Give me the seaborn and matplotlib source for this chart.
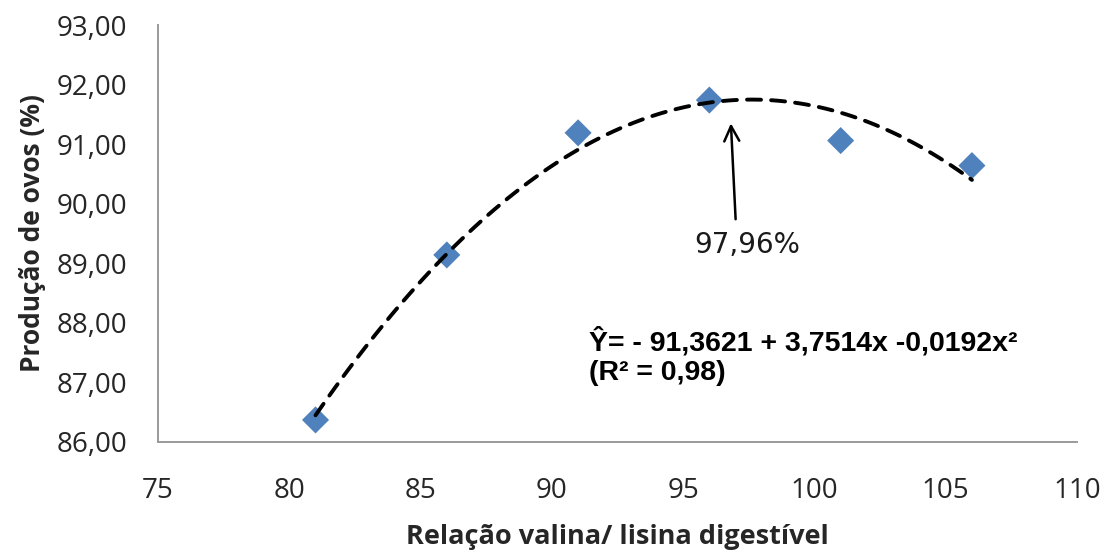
import matplotlib
matplotlib.use("Agg")
import matplotlib.pyplot as plt
import seaborn as sns
import pandas as pd

# Valine : digestible lysine ratio and egg production
relacao = [81, 86, 91, 96, 101, 106]
producao = [86.37, 89.14, 91.19, 91.74, 91.06, 90.64]

x_ticks = [75, 80, 85, 90, 95, 100, 105, 110]
y_ticks = [86, 87, 88, 89, 90, 91, 92, 93]

equacao = "Ŷ= - 91,3621 + 3,7514x -0,0192x²"
r2_texto = "(R² = 0,98)"
otimo_texto = "97,96%"

df = pd.DataFrame({"relacao": relacao, "producao": producao})

sns.set_theme(style="white")
plt.rcParams["font.family"] = ["Open Sans", "DejaVu Sans"]

fig = plt.figure(figsize=(11.04, 5.5), dpi=100)
ax = fig.add_axes([0.1431, 0.1964, 0.8324, 0.7581])

# quadratic trend line (dashed) fitted over the data range
sns.regplot(data=df, x="relacao", y="producao", order=2, ci=None, scatter=False,
            truncate=True, ax=ax,
            line_kws=dict(color="black", lw=2.8, ls=(0, (3.6, 2.6)),
                          dash_capstyle="round", zorder=3))

# observed means
sns.scatterplot(data=df, x="relacao", y="producao", marker="D", s=190,
                color="#4F81BD", edgecolor="none", ax=ax, zorder=2)

ax.set_xlim(75, 110)
ax.set_ylim(86, 93)
ax.set_xticks(x_ticks)
ax.set_yticks(y_ticks)
ax.set_xticklabels([str(v) for v in x_ticks], fontsize=20, color="#262626")
ax.set_yticklabels([f"{v:.2f}".replace(".", ",") for v in y_ticks],
                   fontsize=20, color="#262626")
ax.tick_params(axis="x", length=0, pad=25)
ax.tick_params(axis="y", length=0, pad=22)

for side in ("top", "right"):
    ax.spines[side].set_visible(False)
for side in ("left", "bottom"):
    ax.spines[side].set_color("#9a9a9a")
    ax.spines[side].set_linewidth(1.4)

ax.set_xlabel("Relação valina/ lisina digestível", fontsize=19.5, fontweight="bold",
              color="#262626", labelpad=14)
ax.set_ylabel("Produção de ovos (%)", fontsize=19, fontweight="bold",
              color="#262626", labelpad=8)

# optimum ratio marker
ax.annotate("", xy=(96.82, 91.35), xytext=(97.0, 89.74),
            arrowprops=dict(arrowstyle="->,head_length=0.9,head_width=0.45",
                            color="black", lw=1.8, shrinkA=0, shrinkB=0))
ax.text(97.45, 89.31, otimo_texto, fontsize=20, ha="center", va="center",
        family="DejaVu Sans", color="#1a1a1a")

# regression equation
ax.text(91.41, 87.68, equacao, fontsize=20.5, fontweight="bold", ha="left",
        va="center", family=["Liberation Sans", "DejaVu Sans"], color="black")
ax.text(91.41, 87.15, r2_texto, fontsize=20.5, fontweight="bold", ha="left",
        va="center", family=["Liberation Sans", "DejaVu Sans"], color="black")

fig.savefig("out.png", dpi=100)
